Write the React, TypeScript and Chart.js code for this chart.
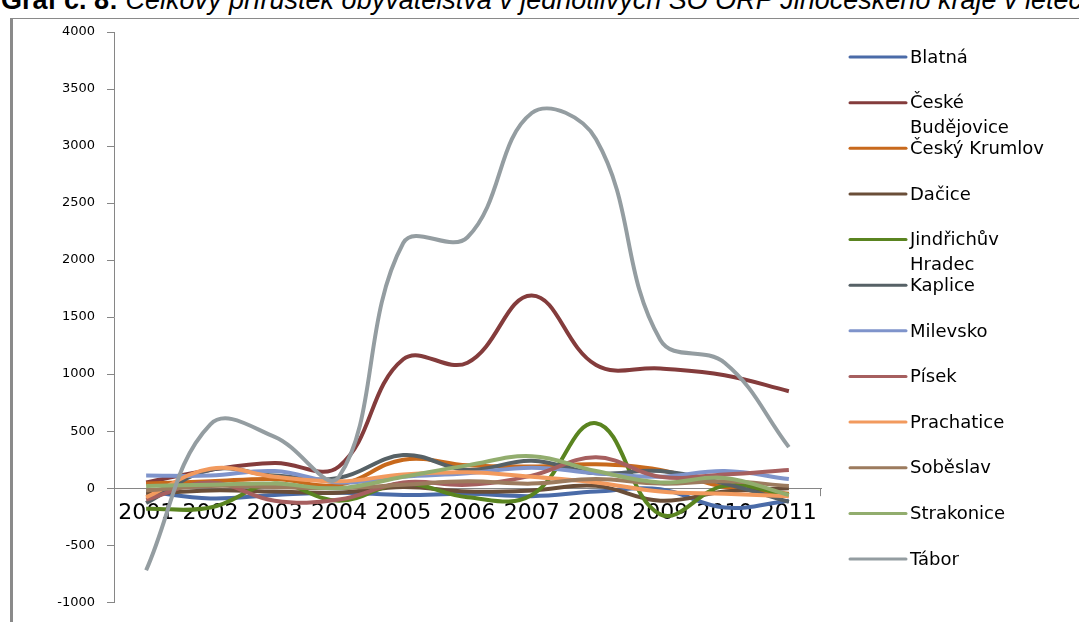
import React, { useEffect, useRef } from 'react';
import { Chart, registerables } from 'chart.js';

Chart.register(...registerables);

const years = ['2001', '2002', '2003', '2004', '2005', '2006', '2007', '2008', '2009', '2010', '2011'];

const blatna = [-30, -90, -60, -40, -60, -50, -70, -30, -10, -170, -110];
const ceskeBudejovice = [50, 160, 220, 190, 1130, 1100, 1690, 1080, 1050, 990, 850];
const ceskyKrumlov = [40, 60, 80, 30, 250, 200, 190, 210, 160, 10, -50];
const dacice = [-50, -20, -30, -40, 10, -30, -20, 20, -110, -30, 0];
const jindrichuvHradec = [-180, -170, 40, -110, 40, -80, -60, 570, -230, 20, -60];
const kaplice = [-130, 160, 110, 90, 290, 160, 240, 130, 150, 40, -120];
const milevsko = [110, 110, 150, 50, 100, 130, 180, 130, 100, 150, 80];
const pisek = [-100, 50, -110, -100, 50, 30, 110, 270, 100, 120, 160];
const prachatice = [-80, 170, 100, 60, 120, 140, 100, 50, -30, -50, -70];
const sobeslav = [-20, 20, 10, 0, 30, 60, 40, 80, 40, 60, 20];
const strakonice = [20, 30, 40, 0, 100, 200, 280, 150, 50, 90, -60];
const tabor = [-720, 560, 450, 100, 2150, 2200, 3290, 3060, 1300, 1100, 360];

const seriesNames = [
  'Blatná', 'České Budějovice', 'Český Krumlov', 'Dačice', 'Jindřichův Hradec', 'Kaplice',
  'Milevsko', 'Písek', 'Prachatice', 'Soběslav', 'Strakonice', 'Tábor',
];
const seriesValues = [
  blatna, ceskeBudejovice, ceskyKrumlov, dacice, jindrichuvHradec, kaplice,
  milevsko, pisek, prachatice, sobeslav, strakonice, tabor,
];
const seriesColors = [
  '#4A6BA8', '#843C3C', '#C8691C', '#6A4E38', '#5A8420', '#566166',
  '#7F94CB', '#A65F5F', '#F29A5E', '#9C7B5E', '#92AD6E', '#949DA1',
];

const yTickLabels = ['-1000', '-500', '0', '500', '1000', '1500', '2000', '2500', '3000', '3500', '4000'];

const titleBold = 'Graf č. 8:';
const titleRest = ' Celkový přírůstek obyvatelstva v jednotlivých SO ORP Jihočeského kraje v letech 2001–2011';

const sideLegend = {
  id: 'sideLegend',
  afterDraw(chart: any) {
    const ctx = chart.ctx as CanvasRenderingContext2D;
    const ca = chart.chartArea;
    const x0 = ca.right + 29;
    const lineLen = 56;
    const textX = x0 + lineLen + 4;
    const maxW = 145;
    ctx.save();
    ctx.font = '18px "DejaVu Sans"';
    ctx.textBaseline = 'middle';
    ctx.textAlign = 'left';
    chart.data.datasets.forEach((ds: any, i: number) => {
      const y = 57 + i * 45.64;
      ctx.strokeStyle = ds.borderColor;
      ctx.lineWidth = 3;
      ctx.lineCap = 'round';
      ctx.beginPath();
      ctx.moveTo(x0, y);
      ctx.lineTo(x0 + lineLen, y);
      ctx.stroke();
      const words = String(ds.label).split(' ');
      const lines: string[] = [];
      let cur = '';
      words.forEach((w) => {
        const t = cur ? cur + ' ' + w : w;
        if (cur && ctx.measureText(t).width > maxW) {
          lines.push(cur);
          cur = w;
        } else {
          cur = t;
        }
      });
      if (cur) lines.push(cur);
      ctx.fillStyle = '#000';
      lines.forEach((ln, k) => ctx.fillText(ln, textX, y + 1 + k * 25));
    });
    ctx.restore();
  },
};

const axisEndTick = {
  id: 'axisEndTick',
  afterDraw(chart: any) {
    const ctx = chart.ctx as CanvasRenderingContext2D;
    const xs = chart.scales.x;
    const ys = chart.scales.y;
    const y0 = ys.getPixelForValue(0);
    ctx.save();
    ctx.strokeStyle = '#868686';
    ctx.lineWidth = 1;
    ctx.beginPath();
    ctx.moveTo(xs.right - 0.5, y0);
    ctx.lineTo(xs.right - 0.5, y0 + 8);
    ctx.stroke();
    ctx.restore();
  },
};

export default function App() {
  const canvasRef = useRef<HTMLCanvasElement | null>(null);

  useEffect(() => {
    if (!canvasRef.current) return;
    const chart = new Chart(canvasRef.current, {
      type: 'line',
      data: {
        labels: years,
        datasets: seriesNames.map((name, i) => ({
          label: name,
          data: seriesValues[i],
          borderColor: seriesColors[i],
          backgroundColor: seriesColors[i],
          borderWidth: 4,
          pointRadius: 0,
          pointHoverRadius: 0,
          tension: 0.4,
          fill: false,
          order: seriesNames.length - 1 - i,
        })),
      },
      options: {
        animation: false,
        responsive: false,
        maintainAspectRatio: false,
        layout: { padding: { left: 0, right: 258, top: 32, bottom: 9 } },
        plugins: {
          legend: { display: false },
          tooltip: { enabled: false },
          title: { display: false },
        },
        scales: {
          x: {
            position: { y: 0 } as any,
            offset: true,
            grid: { display: false },
            border: { display: true, color: '#868686', width: 1 },
            ticks: {
              color: '#000',
              font: { family: 'DejaVu Sans', size: 22 },
              padding: 4,
              maxRotation: 0,
              autoSkip: false,
            },
          },
          y: {
            min: -1000,
            max: 4000,
            afterFit(scale: any) {
              scale.width = 114;
            },
            afterBuildTicks(scale: any) {
              scale.ticks = yTickLabels.map((v) => ({ value: Number(v) }));
            },
            grid: { display: true, drawOnChartArea: false, drawTicks: true, tickLength: 7, color: '#868686' },
            border: { display: true, color: '#868686', width: 1 },
            ticks: {
              color: '#000',
              font: { family: 'DejaVu Sans', size: 13 },
              padding: 12,
              callback: (v: any) => String(v),
            },
          },
        },
      },
      plugins: [sideLegend, axisEndTick],
    });
    return () => chart.destroy();
  }, []);

  return (
    <div
      style={{
        position: 'fixed',
        left: 0,
        top: 0,
        width: 1079,
        height: 622,
        overflow: 'hidden',
        background: '#fff',
      }}
    >
      <div
        style={{
          position: 'absolute',
          left: 1,
          top: -15,
          whiteSpace: 'nowrap',
          fontFamily: '"Liberation Sans", Arial, sans-serif',
          fontSize: 27,
          color: '#000',
          lineHeight: '30px',
        }}
      >
        <b>{titleBold}</b>
        <i>{titleRest}</i>
      </div>
      <div
        style={{
          position: 'absolute',
          left: 10,
          top: 18,
          width: 1079,
          height: 620,
          borderLeft: '3px solid #8a8a8a',
          borderTop: '1px solid #8a8a8a',
          boxSizing: 'border-box',
        }}
      />
      <canvas
        ref={canvasRef}
        width={1079}
        height={622}
        style={{ position: 'absolute', left: 0, top: 0, width: 1079, height: 622 }}
      />
    </div>
  );
}
